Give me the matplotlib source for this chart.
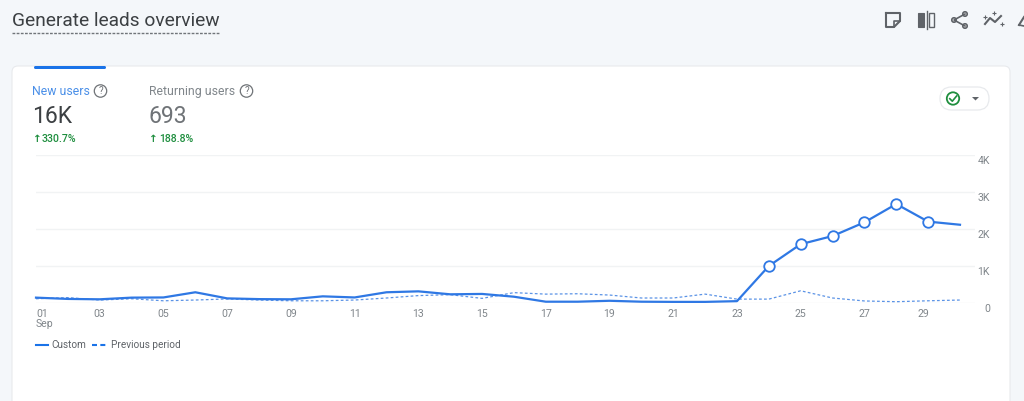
import matplotlib
matplotlib.use('Agg')
import matplotlib.pyplot as plt
from matplotlib.patches import FancyBboxPatch, Circle, Rectangle, Polygon
from matplotlib.transforms import ScaledTranslation

plt.rcParams['font.family'] = ['Roboto', 'DejaVu Sans']

# Values
days = list(range(1, 31))
custom = [145, 110, 100, 145, 150, 290, 125, 105, 100, 180, 150, 290, 315, 235, 245,
          170, 35, 35, 60, 35, 30, 30, 50, 1000, 1590, 1810, 2180, 2675, 2200, 2115]
previous = [115, 145, 80, 115, 60, 80, 110, 80, 60, 60, 80, 135, 200, 225, 125,
            280, 240, 250, 215, 135, 135, 240, 105, 105, 330, 135, 55, 35, 60, 80]
marked_days = [24, 25, 26, 27, 28, 29]
marked_values = [1000, 1590, 1810, 2180, 2675, 2200]
x_ticks = [1, 3, 5, 7, 9, 11, 13, 15, 17, 19, 21, 23, 25, 27, 29]
x_labels = ['01\nSep', '03', '05', '07', '09', '11', '13', '15', '17', '19', '21', '23', '25', '27', '29']
y_ticks = [0, 1000, 2000, 3000, 4000]
y_labels = ['0', '1K', '2K', '3K', '4K']

W, H = 1024, 401
BLUE = '#2f78e4'
GREY = '#80868b'
DARK = '#3c4043'
GREEN = '#1e8e3e'

fig = plt.figure(figsize=(W / 100, H / 100), dpi=100, facecolor='#f4f7fa')

# Background layer in pixel coordinates, y pointing down
bg = fig.add_axes([0, 0, 1, 1])
bg.set_xlim(0, W)
bg.set_ylim(H, 0)
bg.axis('off')

# Page title
bg.text(12, 21.5, 'Generate leads overview', fontsize=13.8, color=DARK, va='center')
bg.plot([12, 219], [32.5, 32.5], color='#70757a', lw=1, ls=(0, (2, 1)))

# White card
bg.add_patch(FancyBboxPatch((12, 66), 998, 360, boxstyle='round,pad=0,rounding_size=6',
                            fc='white', ec='#e8eaed', lw=0.8))
bg.add_patch(FancyBboxPatch((34, 66), 72, 3, boxstyle='round,pad=0,rounding_size=1.5',
                            fc='#1a73e8', ec='none'))

# Metric headers
bg.text(32, 91.5, 'New users', fontsize=8.8, color='#4a8fe8', va='center')
bg.text(149, 91.5, 'Returning users', fontsize=8.8, color=GREY, va='center')
bg.text(32, 116.5, '16K', fontsize=16.5, color=DARK, va='center')
bg.text(149, 116.5, '693', fontsize=16.5, color='#6f7377', va='center')
bg.text(33, 139, '↑', fontsize=7.5, color=GREEN, va='center', fontweight='bold')
bg.text(42, 139, '330.7%', fontsize=7.6, color=GREEN, va='center', fontweight='medium')
bg.text(149, 139, '↑', fontsize=7.5, color=GREEN, va='center', fontweight='bold')
bg.text(159, 139, '188.8%', fontsize=7.6, color=GREEN, va='center', fontweight='medium')

# Help icons
for cx in [100.5, 246.5]:
    bg.add_patch(Circle((cx, 91), 6.2, fc='none', ec='#6f7377', lw=0.9))
    bg.text(cx, 91.3, '?', fontsize=7, color='#6f7377', ha='center', va='center')

# Compare pill with check icon
bg.add_patch(FancyBboxPatch((940, 87), 49, 23, boxstyle='round,pad=0,rounding_size=11.5',
                            fc='white', ec='#e8eaed', lw=0.9))
bg.add_patch(Circle((953, 98.5), 6.2, fc='none', ec=GREEN, lw=1.3))
bg.plot([949.8, 952.3, 956.6], [98.7, 101.2, 96], color=GREEN, lw=1.2)
bg.add_patch(Polygon([[972, 97], [979, 97], [975.5, 100.5]], fc='#5f6368', ec='none'))

# Toolbar icons
ICON = '#5f6368'
bg.plot([886, 900, 900, 894, 886, 886], [13, 13, 21, 27, 27, 13], color=ICON, lw=1.5)
bg.plot([894, 894, 900], [27, 21, 21], color=ICON, lw=1.2)
bg.add_patch(Rectangle((918, 13), 6, 14, fc=ICON, ec=ICON, lw=0.8))
bg.plot([926.5, 926.5], [11, 29], color=ICON, lw=1)
bg.add_patch(Rectangle((929, 13), 4.5, 14, fc='none', ec=ICON, lw=1))
bg.plot([965, 954, 965], [14, 20, 26], color=ICON, lw=1.2)
for cx, cy in [(965, 14), (954, 20), (965, 26)]:
    bg.add_patch(Circle((cx, cy), 2.2, fc='white', ec=ICON, lw=1.2))
bg.plot([985, 990, 995, 1001], [24, 18, 22, 16], color=ICON, lw=1.5)
for cx, cy in [(985, 17), (994, 13), (1002, 24)]:
    bg.plot([cx], [cy], marker='+', ms=3, color=ICON, mew=0.8)
bg.plot([1019, 1024], [25, 17], color=ICON, lw=1.5)
bg.plot([1019, 1024], [25, 26], color=ICON, lw=1.2)

# Legend
bg.plot([36, 48], [345, 345], color='#1a73e8', lw=1.5)
bg.text(51, 345, 'Custom', fontsize=7.2, color='#5f6368', va='center')
bg.plot([92, 106], [345, 345], color='#1a73e8', lw=1.5, ls=(0, (2.4, 1.6)))
bg.text(111, 345, 'Previous period', fontsize=7.2, color='#5f6368', va='center')

# Chart area: day 1 at x=36, day 30 at x=960, 0 at y=303, 4K at y=155
left, right, top, bottom = 36, 975, 155, 303
ax = fig.add_axes([left / W, 1 - bottom / H, (right - left) / W, (bottom - top) / H])
ax.patch.set_alpha(0)
ax.set_xlim(1, 1 + 29 * (right - left) / 924)
ax.set_ylim(0, 4000)
for s in ax.spines.values():
    s.set_visible(False)
ax.grid(axis='y', color='#f1f3f4', lw=1)
ax.set_axisbelow(True)
ax.plot(days, previous, color='#5b93e6', lw=0.9, ls=(0, (2.2, 1.8)), clip_on=False)
ax.plot(days, custom, color=BLUE, lw=1.6, clip_on=False)
ax.plot(marked_days, marked_values, ls='none', marker='o', ms=7.6, mfc='white',
        mec=BLUE, mew=1.3, clip_on=False)
ax.set_xticks(x_ticks)
ax.set_xticklabels(x_labels, fontsize=7.6, color=GREY, linespacing=1.05)
ax.yaxis.tick_right()
ax.set_yticks(y_ticks)
ax.set_yticklabels(y_labels, fontsize=7.6, color=GREY, ha='right')
ax.tick_params(axis='x', length=0, pad=4)
ax.tick_params(axis='y', length=0, pad=10.8)

# y labels sit just below their gridlines, first x label starts at the axis edge,
# last x label is pulled in from its tick
for t in ax.get_yticklabels():
    t.set_verticalalignment('center')
    t.set_transform(t.get_transform() + ScaledTranslation(0, -6 / 100, fig.dpi_scale_trans))
xlabels = ax.get_xticklabels()
xlabels[0].set_horizontalalignment('left')
xlabels[-1].set_transform(xlabels[-1].get_transform() + ScaledTranslation(-5 / 100, 0, fig.dpi_scale_trans))

fig.savefig('out.png', dpi=100, facecolor=fig.get_facecolor())
